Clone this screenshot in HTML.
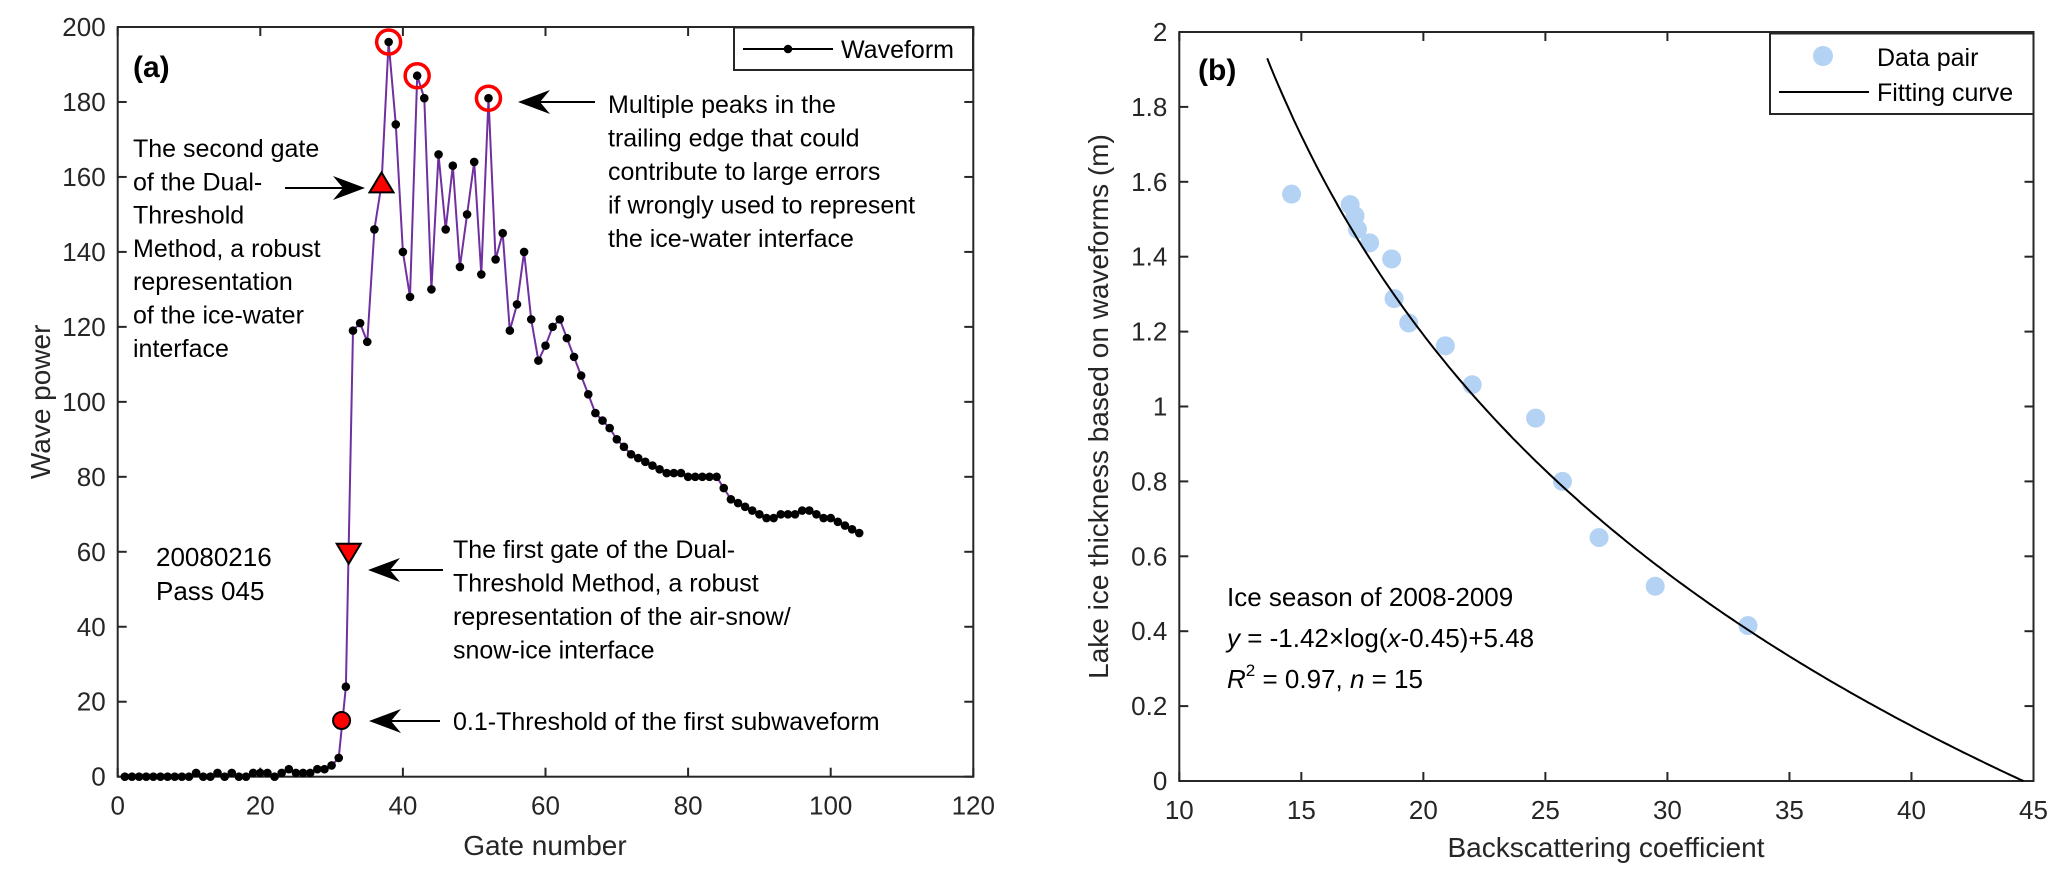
<!DOCTYPE html>
<html><head><meta charset="utf-8">
<style>
html,body{margin:0;padding:0;background:#fff;}
svg{display:block;font-family:"Liberation Sans",Arial,sans-serif;}
</style></head>
<body>
<svg id="fig" width="2067" height="887" viewBox="0 0 2067 887" xmlns="http://www.w3.org/2000/svg">
<g id="pa"></g>
<g id="pb"></g>
</svg>
<script>
// ---------- Panel (a) data ----------
const gates = Array.from({length:104},(_,i)=>i+1);
const waveValues = [0,0,0,0,0,0,0,0,0,0, 1,0,0,1,0,1,0,0,1,1, 1,0,1,2,1,1,1,2,2,3, 5,24,119,121,116,146,158,196,174,140, 128,187,181,130,166,146,163,136,150,164, 134,181,138,145,119,126,140,122,111,115, 120,122,117,112,107,102,97,95,93,90, 88,86,85,84,83,82,81,81,81,80, 80,80,80,80,77,74,73,72,71,70, 69,69,70,70,70,71,71,70,69,69, 68,67,66,65];
const peakGates = [38,42,52];
const peakValues = [196,187,181];
const secondGate = [37.0,158];
const firstGate = [32.4,60];
const thresholdPt = [31.4,15];
const aXTicks = [0,20,40,60,80,100,120];
const aYTicks = [0,20,40,60,80,100,120,140,160,180,200];

// ---------- Panel (b) data ----------
const bsX = [14.6,17.0,17.2,17.3,17.8,18.7,18.8,19.4,20.9,22.0,24.6,25.7,27.2,29.5,33.3];
const bsY = [1.567,1.539,1.509,1.473,1.437,1.394,1.288,1.223,1.162,1.058,0.969,0.80,0.65,0.52,0.415];
const fitParams = [4.182,1.149,6.5]; // y = A - B*ln(x - C)
const fitRange = [13.6,44.6];
const bXTicks = [10,15,20,25,30,35,40,45];
const bYTicks = [0,0.2,0.4,0.6,0.8,1,1.2,1.4,1.6,1.8,2];
const bYTickLabels = ["0","0.2","0.4","0.6","0.8","1","1.2","1.4","1.6","1.8","2"];

const NS="http://www.w3.org/2000/svg";
function mk(parent,tag,attrs,text){
  const e=document.createElementNS(NS,tag);
  for(const k in attrs) e.setAttribute(k,attrs[k]);
  if(text!==undefined) e.textContent=text;
  parent.appendChild(e); return e;
}
const AX="#262626";

// ---- axes helpers
const A={x0:117.7,x1:973.3,y0:776.7,y1:27,xmin:0,xmax:120,ymin:0,ymax:200};
const B={x0:1179.3,x1:2033.5,y0:781,y1:32,xmin:10,xmax:45,ymin:0,ymax:2};
function sx(P,v){return P.x0+(v-P.xmin)/(P.xmax-P.xmin)*(P.x1-P.x0);}
function sy(P,v){return P.y0-(v-P.ymin)/(P.ymax-P.ymin)*(P.y0-P.y1);}

function drawAxes(g,P,xt,yt,ytl,ylabX){
  const f=mk(g,'rect',{x:P.x0,y:P.y1,width:P.x1-P.x0,height:P.y0-P.y1,fill:'none',stroke:AX,'stroke-width':2});
  
  
  xt.forEach(v=>{
    const x=sx(P,v);
    const t1=mk(g,'line',{x1:x,y1:P.y0,x2:x,y2:P.y0-9,stroke:AX,'stroke-width':2});
    
    
    mk(g,'line',{x1:x,y1:P.y1,x2:x,y2:P.y1+9,stroke:AX,'stroke-width':2});
    const l=mk(g,'text',{x:x,y:P.y0+38,'font-size':26,'text-anchor':'middle',fill:AX},String(v));
    
    
  });
  yt.forEach((v,i)=>{
    const y=sy(P,v);
    const t1=mk(g,'line',{x1:P.x0,y1:y,x2:P.x0+9,y2:y,stroke:AX,'stroke-width':2});
    
    
    mk(g,'line',{x1:P.x1,y1:y,x2:P.x1-9,y2:y,stroke:AX,'stroke-width':2});
    const l=mk(g,'text',{x:P.x0-12,y:y+9,'font-size':26,'text-anchor':'end',fill:AX},ytl?ytl[i]:String(v));
    
    
  });
}
function arrow(g,x1,y,x2,name){ // arrow pointing left from x1 to x2
  const a=mk(g,'g',{});
  
  
  mk(a,'line',{x1:x1,y1:y,x2:x2+18,y2:y,stroke:'#000','stroke-width':2});
  mk(a,'polygon',{points:`${x2},${y} ${x2+32},${y-12} ${x2+22},${y} ${x2+32},${y+12}`,fill:'#000'});
}
function arrowR(g,x1,y,x2,name){ // pointing right
  const a=mk(g,'g',{});
  
  
  mk(a,'line',{x1:x1,y1:y,x2:x2-18,y2:y,stroke:'#000','stroke-width':2});
  mk(a,'polygon',{points:`${x2},${y} ${x2-32},${y-12} ${x2-22},${y} ${x2-32},${y+12}`,fill:'#000'});
}
function textLines(g,x,y0,dy,lines,name,size){
  const t=mk(g,'text',{x:x,y:y0,'font-size':size||25,fill:'#000'});
  
  
  lines.forEach((s,i)=>{mk(t,'tspan',{x:x,y:y0+i*dy},s);});
}

// ---------- draw panel (a)
const ga=document.getElementById('pa');
drawAxes(ga,A,aXTicks,aYTicks,null);
let yl=mk(ga,'text',{x:545,y:855,'font-size':28,'text-anchor':'middle',fill:AX},'Gate number');


yl=mk(ga,'text',{x:0,y:0,'font-size':28,'text-anchor':'middle',fill:AX,transform:`translate(50,${(A.y0+A.y1)/2}) rotate(-90)`},'Wave power');



const pts=gates.map((g,i)=>sx(A,g).toFixed(1)+','+sy(A,waveValues[i]).toFixed(1)).join(' ');
const wl=mk(ga,'polyline',{points:pts,fill:'none',stroke:'#7030a0','stroke-width':2});


gates.forEach((g,i)=>{
  const c=mk(ga,'circle',{cx:sx(A,g),cy:sy(A,waveValues[i]),r:4.3,fill:'#000'});
  
  
});
peakGates.forEach((g,i)=>{
  const c=mk(ga,'circle',{cx:sx(A,g),cy:sy(A,peakValues[i]),r:12,fill:'none',stroke:'#f00','stroke-width':3.5});
  
  
});
{
  const x=sx(A,secondGate[0]),y=sy(A,secondGate[1]);
  const t=mk(ga,'polygon',{points:`${x},${y-12} ${x+12},${y+8} ${x-12},${y+8}`,fill:'#f00',stroke:'#000','stroke-width':2});
  
  
  const x2=sx(A,firstGate[0]),y2=sy(A,firstGate[1]);
  const t2=mk(ga,'polygon',{points:`${x2},${y2+12} ${x2+12},${y2-8} ${x2-12},${y2-8}`,fill:'#f00',stroke:'#000','stroke-width':2});
  
  
  const c=mk(ga,'circle',{cx:sx(A,thresholdPt[0]),cy:sy(A,thresholdPt[1]),r:8.5,fill:'#f00',stroke:'#000','stroke-width':2});
  
  
}
let lab=mk(ga,'text',{x:133,y:77,'font-size':30,'font-weight':'bold',fill:'#000'},'(a)');


textLines(ga,133,157,33.3,['The second gate','of the Dual-','Threshold','Method, a robust','representation','of the ice-water','interface'],'second-gate-annotation');
arrowR(ga,285,188,365,'second-gate-arrow');
textLines(ga,608,113,33.5,['Multiple peaks in the','trailing edge that could','contribute to large errors','if wrongly used to represent','the ice-water interface'],'peaks-annotation');
arrow(ga,595,102,518,'peaks-arrow');
textLines(ga,453,558,33.5,['The first gate of the Dual-','Threshold Method, a robust','representation of the air-snow/','snow-ice interface'],'first-gate-annotation');
arrow(ga,443,570,368,'first-gate-arrow');
textLines(ga,156,566,34,['20080216','Pass 045'],'date-pass-label',26);
textLines(ga,453,730,33,['0.1-Threshold of the first subwaveform'],'threshold-annotation');
arrow(ga,440,721,369,'threshold-arrow');
// legend a
{
  const lg=mk(ga,'g',{});
  
  
  mk(lg,'rect',{x:734,y:27.5,width:239,height:42.5,fill:'#fff',stroke:AX,'stroke-width':2});
  mk(lg,'line',{x1:743,y1:49,x2:833,y2:49,stroke:'#000','stroke-width':2});
  mk(lg,'circle',{cx:788,cy:49,r:4.3,fill:'#000'});
  const t=mk(lg,'text',{x:841,y:58,'font-size':25,fill:'#000'},'Waveform');
  
  
}

// ---------- draw panel (b)
const gb=document.getElementById('pb');
drawAxes(gb,B,bXTicks,bYTicks,bYTickLabels);
yl=mk(gb,'text',{x:1606,y:857,'font-size':28,'text-anchor':'middle',fill:AX},'Backscattering coefficient');


yl=mk(gb,'text',{x:0,y:0,'font-size':28,'text-anchor':'middle',fill:AX,transform:`translate(1108,${(B.y0+B.y1)/2}) rotate(-90)`},'Lake ice thickness based on waveforms (m)');


bsX.forEach((x,i)=>{
  const c=mk(gb,'circle',{cx:sx(B,x),cy:sy(B,bsY[i]),r:9.5,fill:'#b4d2f3'});
  
  
});
{
  const [Aa,Bb,Cc]=fitParams; const p=[];
  for(let i=0;i<=200;i++){const x=fitRange[0]+(fitRange[1]-fitRange[0])*i/200; const y=Math.max(0,Aa-Bb*Math.log(x-Cc)); p.push(sx(B,x).toFixed(1)+','+sy(B,y).toFixed(1));}
  const l=mk(gb,'polyline',{points:p.join(' '),fill:'none',stroke:'#000','stroke-width':2});
  
  
}
lab=mk(gb,'text',{x:1198,y:80,'font-size':30,'font-weight':'bold',fill:'#000'},'(b)');


{
  const t=mk(gb,'text',{x:1227,y:606,'font-size':26,fill:'#000'},'Ice season of 2008-2009');
  
  
  const e=mk(gb,'text',{x:1227,y:647,'font-size':26,fill:'#000'});
  
  
  mk(e,'tspan',{'font-style':'italic'},'y');
  mk(e,'tspan',{},' = -1.42×log(');
  mk(e,'tspan',{'font-style':'italic'},'x');
  mk(e,'tspan',{},'-0.45)+5.48');
  const r=mk(gb,'text',{x:1227,y:688,'font-size':26,fill:'#000'});
  
  
  mk(r,'tspan',{'font-style':'italic'},'R');
  mk(r,'tspan',{'font-size':17,dy:-12},'2');
  mk(r,'tspan',{dy:12},' = 0.97, ');
  mk(r,'tspan',{'font-style':'italic'},'n');
  mk(r,'tspan',{},' = 15');
}
{
  const lg=mk(gb,'g',{});
  
  
  mk(lg,'rect',{x:1770,y:33.5,width:263.5,height:80.5,fill:'#fff',stroke:AX,'stroke-width':2});
  mk(lg,'circle',{cx:1823,cy:56,r:10,fill:'#b4d2f3'});
  mk(lg,'line',{x1:1779,y1:92,x2:1869,y2:92,stroke:'#000','stroke-width':2});
  const t1=mk(lg,'text',{x:1877,y:66,'font-size':25,fill:'#000'},'Data pair');
  
  
  const t2=mk(lg,'text',{x:1877,y:101,'font-size':25,fill:'#000'},'Fitting curve');
  
  
}
</script>
</body></html>
